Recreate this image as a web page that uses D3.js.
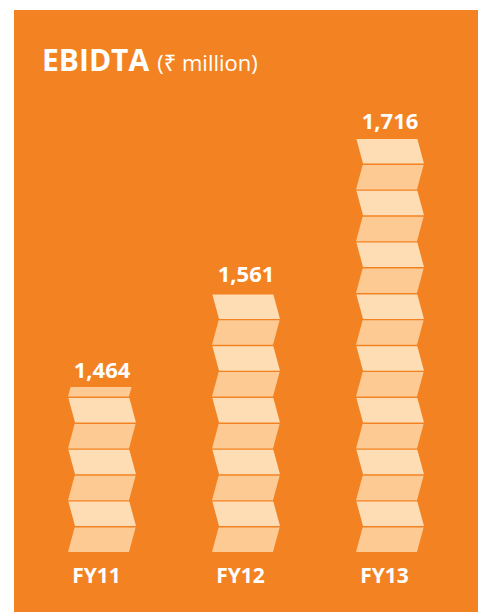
<!DOCTYPE html>
<html>
<head>
<meta charset="utf-8">
<script src="https://cdn.jsdelivr.net/npm/d3@7/dist/d3.min.js"></script>
<style>
  html, body { margin: 0; padding: 0; background: #ffffff; }
  svg { display: block; }
  text { font-family: "Open Sans", "Noto Sans", sans-serif; fill: #ffffff; }
</style>
</head>
<body>
<svg id="chart" width="480" height="612"></svg>
<script>
// EBIDTA by fiscal year, ₹ million
const categories = ["FY11", "FY12", "FY13"];
const values = [1464, 1561, 1716];
const valueLabels = ["1,464", "1,561", "1,716"];
const titleMain = "EBIDTA";
const titleUnit = "(₹ million)";

const W = 480, H = 612;
const orange = "#f38322";
const lightTile = "#fedcb4";
const darkTile = "#fdca94";

const svg = d3.select("#chart");

// orange panel
svg.append("rect")
  .attr("x", 14).attr("y", 10)
  .attr("width", 464).attr("height", H - 10)
  .attr("fill", orange);

// title
const title = svg.append("text")
  .attr("x", 42).attr("y", 71);
title.append("tspan")
  .attr("font-size", 30).attr("font-weight", 700)
  .text(titleMain);
title.append("tspan")
  .attr("dx", 8)
  .attr("font-size", 22).attr("font-weight", 400)
  .text(titleUnit);

// scales
const x = d3.scaleBand()
  .domain(categories)
  .range([30, 462])
  .paddingInner(0.528)
  .paddingOuter(0.264);

const baseY = 552;
const y = d3.scaleLinear()
  .domain([1297, 1716])
  .range([baseY, 138]);

// zigzag tiles: each bar is a stack of slanted tiles that alternate direction
const pitch = 25.9;   // tile height including gap
const gap = 1.4;
const shift = 7;      // horizontal lean of each tile
const tileW = x.bandwidth() - shift;

function offsetAt(h) {
  // horizontal offset of the bar's left edge at height h above the base
  const k = Math.floor(h / pitch);
  const t = (h - k * pitch) / pitch;
  const a = (k % 2) ? shift : 0;
  const b = (k % 2) ? 0 : shift;
  return a + (b - a) * t;
}

const bars = svg.append("g");
categories.forEach((cat, i) => {
  const x0 = x(cat);
  const top = y(values[i]);
  const total = baseY - top;
  const n = Math.ceil(total / pitch - 1e-6);
  const tiles = d3.range(n).map(k => {
    const h0 = k * pitch;
    const h1 = Math.min((k + 1) * pitch - gap, total);
    return { k, h0, h1 };
  }).filter(d => d.h1 - d.h0 > 2.5);   // skip slivers too thin to show

  bars.append("g").selectAll("path")
    .data(tiles)
    .join("path")
    .attr("fill", d => (d.k % 2) ? lightTile : darkTile)
    .attr("d", d => {
      const o0 = offsetAt(d.h0), o1 = offsetAt(d.h1);
      const yb = baseY - d.h0, yt = baseY - d.h1;
      return `M${x0 + o0},${yb} L${x0 + o0 + tileW},${yb} L${x0 + o1 + tileW},${yt} L${x0 + o1},${yt} Z`;
    });
});

// value labels
svg.append("g").selectAll("text")
  .data(categories)
  .join("text")
  .attr("x", d => x(d) + x.bandwidth() / 2)
  .attr("y", (d, i) => y(values[i]) - 9)
  .attr("text-anchor", "middle")
  .attr("font-size", 22)
  .attr("font-weight", 700)
  .text((d, i) => valueLabels[i]);

// category labels
svg.append("g").selectAll("text")
  .data(categories)
  .join("text")
  .attr("x", d => x(d) + x.bandwidth() / 2 - 5.5)
  .attr("y", 583)
  .attr("text-anchor", "middle")
  .attr("font-size", 21)
  .attr("font-weight", 700)
  .text(d => d);
</script>
</body>
</html>
